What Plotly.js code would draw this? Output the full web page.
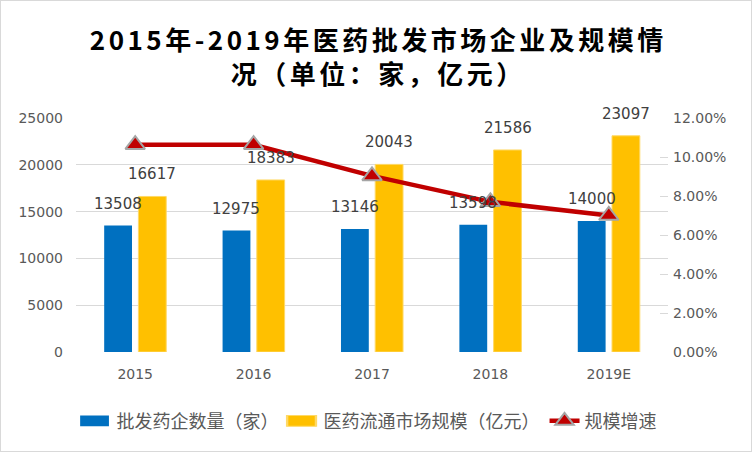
<!DOCTYPE html>
<html><head><meta charset="utf-8">
<script src="https://cdn.plot.ly/plotly-3.0.1.min.js"></script>
<style>
body{margin:0;background:#fff}
#chart{width:750px;height:450px;border:1px solid #d9d9d9}
#chart .gtitle{letter-spacing:3.5px}
#chart .legend .traces:nth-of-type(-n+2) .legendpoints path{transform:translate(18px,0px) scale(2.4,0.9)}
</style>
</head><body><div id="chart"></div>
<script>
const categories = ['2015', '2016', '2017', '2018', '2019E'];
const wholesalers = [13508, 12975, 13146, 13598, 14000];
const marketSize = [16617, 18383, 20043, 21586, 23097];
const growthRate = [0.1063, 0.1063, 0.0903, 0.0770, 0.0700];
const leftTicks = [0, 5000, 10000, 15000, 20000, 25000];
const rightTicks = [0, 0.02, 0.04, 0.06, 0.08, 0.10, 0.12];
const seriesNames = ['批发药企数量（家）', '医药流通市场规模（亿元）', '规模增速'];

const latin = '"DejaVu Sans", "Noto Sans CJK SC", sans-serif';
const cjk = '"Noto Sans CJK SC", sans-serif';
const barW = 0.235, blueOff = -0.262, yellowOff = 0.027;

const traces = [
  {type: 'bar', name: seriesNames[0], x: categories, y: wholesalers,
   width: barW, offset: blueOff, marker: {color: '#0070C0'}, hoverinfo: 'skip'},
  {type: 'bar', name: seriesNames[1], x: categories, y: marketSize,
   width: barW, offset: yellowOff, marker: {color: '#FFC000', line: {color: '#FFD966', width: 1}}, hoverinfo: 'skip'},
  {type: 'scatter', mode: 'lines+markers', name: seriesNames[2], x: categories, y: growthRate, yaxis: 'y2',
   line: {color: '#C00000', width: 4.5},
   marker: {symbol: 'triangle-up', size: 17, color: '#C00000', line: {color: '#A5A5A5', width: 2}}, hoverinfo: 'skip'}
];

const annotations = [];
categories.forEach((c, i) => {
  annotations.push({x: i + blueOff + barW / 2, y: wholesalers[i], xref: 'x', yref: 'y', text: String(wholesalers[i]),
    showarrow: false, yshift: 22, font: {family: latin, size: 15, color: '#404040'}});
  annotations.push({x: i + yellowOff + barW / 2, y: marketSize[i], xref: 'x', yref: 'y', text: String(marketSize[i]),
    showarrow: false, yshift: 22, font: {family: latin, size: 15, color: '#404040'}});
});

const layout = {
  width: 750, height: 450,
  margin: {l: 75, r: 83, t: 117, b: 98},
  paper_bgcolor: '#ffffff', plot_bgcolor: '#ffffff',
  barmode: 'overlay',
  title: {text: '2015年-2019年医药批发市场企业及规模情<br>况（单位：家，亿元）',
    font: {family: cjk, size: 26, color: '#000000', weight: 'bold'},
    x: 0.503, xref: 'container', y: 0.891, yref: 'container', yanchor: 'middle'},
  xaxis: {type: 'category', range: [-0.5, 4.5], showgrid: false, showline: false, ticks: '',
    tickfont: {family: latin, size: 14, color: '#595959'}, ticklabelstandoff: 12, zeroline: false},
  yaxis: {range: [0, 25000], tickvals: leftTicks, ticktext: leftTicks.map(String), showgrid: true, gridcolor: '#D9D9D9', gridwidth: 1,
    zeroline: false, showline: false, ticks: '', tickfont: {family: latin, size: 14, color: '#595959'}, ticklabelstandoff: 12},
  yaxis2: {overlaying: 'y', side: 'right', range: [0, 0.12], tickvals: rightTicks, tickformat: '.2%', showgrid: false,
    zeroline: false, showline: false, ticks: 'inside', ticklen: 8, tickcolor: '#D9D9D9',
    tickfont: {family: latin, size: 14, color: '#595959'}, ticklabelstandoff: 4},
  legend: {orientation: 'h', x: 0.495, xanchor: 'center', y: -0.29, yanchor: 'middle',
    font: {family: cjk, size: 18, color: '#595959'}, traceorder: 'normal'},
  annotations: annotations,
  showlegend: true
};

Plotly.newPlot('chart', traces, layout, {displayModeBar: false, staticPlot: true});
</script></body></html>
